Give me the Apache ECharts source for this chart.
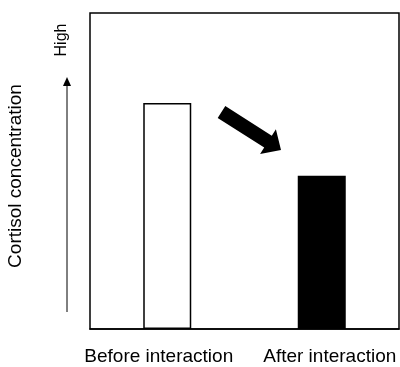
<!DOCTYPE html>
<html>
<head>
<meta charset="utf-8">
<script src="https://cdn.jsdelivr.net/npm/echarts@6/dist/echarts.min.js"></script>
<style>
html,body{margin:0;padding:0;background:#fff;}
#chart{width:400px;height:367px;}
</style>
</head>
<body>
<div id="chart"></div>
<script>
const categories = ['Before interaction', 'After interaction'];
const values = [71.5, 48.5];
const barFills = ['#ffffff', '#000000'];
const yAxisTitle = 'Cortisol concentration';
const highLabel = 'High';

const FONT = '"Liberation Sans", Arial, Helvetica, sans-serif';
const chart = echarts.init(document.getElementById('chart'), null, {renderer: 'canvas'});

const option = {
  animation: false,
  backgroundColor: '#ffffff',
  grid: {
    left: 90, right: 1, top: 13, bottom: 38,
    containLabel: false,
    outerBoundsMode: 'none',
    show: true, borderColor: '#000000', borderWidth: 1.5, backgroundColor: 'transparent'
  },
  xAxis: {
    type: 'category',
    data: categories,
    axisLine: {show: true, lineStyle: {color: '#000', width: 1.5}},
    axisTick: {show: false},
    splitLine: {show: false},
    axisLabel: {
      interval: 0,
      hideOverlap: false,
      margin: 18,
      color: '#000',
      fontFamily: FONT,
      fontSize: 19,
      formatter: function (v) { return v === categories[0] ? '{a|' + v + '}' : '{b|' + v + '}'; },
      rich: {
        a: {fontFamily: FONT, fontSize: 19, color: '#000', padding: [0, 17, 0, 0]},
        b: {fontFamily: FONT, fontSize: 19, color: '#000', padding: [0, 0, 0, 16]}
      }
    }
  },
  yAxis: {
    type: 'value',
    min: 0, max: 100,
    axisLine: {show: false},
    axisTick: {show: false},
    axisLabel: {show: false},
    splitLine: {show: false},
    name: yAxisTitle,
    nameLocation: 'middle',
    nameRotate: 90,
    nameGap: 65,
    nameTextStyle: {fontFamily: FONT, fontSize: 19, color: '#000', padding: [0, 10, 0, 0]}
  },
  series: [{
    type: 'bar',
    barWidth: 48,
    data: values.map(function (v, i) {
      return {value: v, itemStyle: {color: barFills[i], borderColor: '#000', borderWidth: 1.5}};
    })
  }],
  graphic: [
    {
      type: 'line', silent: true,
      shape: {x1: 67, y1: 312, x2: 67, y2: 84},
      style: {stroke: '#000', lineWidth: 1}
    },
    {
      type: 'polygon', silent: true,
      shape: {points: [[67, 77], [71, 86], [63, 86]]},
      style: {fill: '#000'}
    },
    {
      type: 'text', silent: true,
      x: 62, y: 40, rotation: Math.PI / 2,
      style: {text: highLabel, font: '16px "Liberation Sans", Arial, sans-serif', fill: '#000', align: 'center', verticalAlign: 'middle'}
    },
    {
      type: 'polygon', silent: true,
      shape: {points: [[225.3, 106.1], [271.8, 135.8], [275.9, 129.3], [281, 150], [260.1, 154.1], [264.2, 147.6], [217.7, 117.9]]},
      style: {fill: '#000'}
    }
  ]
};
chart.setOption(option);
</script>
</body>
</html>
